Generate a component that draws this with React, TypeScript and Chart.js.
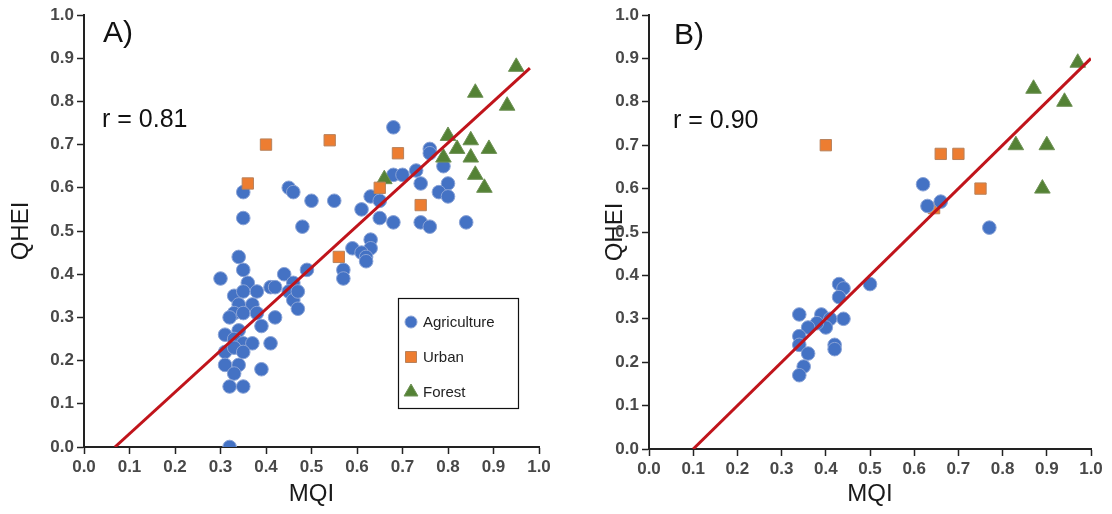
import React, { useEffect, useRef } from 'react';
import { Chart, registerables } from 'chart.js';
Chart.register(...registerables);

// ---------- data ----------
const tickValues = [0, 0.1, 0.2, 0.3, 0.4, 0.5, 0.6, 0.7, 0.8, 0.9, 1.0];
const seriesNames = ['Agriculture', 'Urban', 'Forest'];

const agricultureA: number[][] = [
  [0.35, 0.59], [0.35, 0.53], [0.45, 0.60], [0.46, 0.59], [0.50, 0.57], [0.48, 0.51],
  [0.68, 0.74], [0.76, 0.69], [0.76, 0.68], [0.79, 0.65], [0.68, 0.63], [0.70, 0.63],
  [0.73, 0.64], [0.74, 0.61], [0.80, 0.61], [0.78, 0.59], [0.80, 0.58], [0.55, 0.57],
  [0.63, 0.58], [0.65, 0.57], [0.61, 0.55], [0.65, 0.53], [0.68, 0.52], [0.74, 0.52],
  [0.76, 0.51], [0.84, 0.52], [0.63, 0.48], [0.63, 0.46], [0.59, 0.46], [0.61, 0.45],
  [0.62, 0.44], [0.62, 0.43], [0.57, 0.41], [0.57, 0.39],
  [0.34, 0.44], [0.35, 0.41], [0.30, 0.39], [0.36, 0.38], [0.38, 0.36], [0.33, 0.35],
  [0.35, 0.36], [0.34, 0.33], [0.37, 0.33], [0.33, 0.31], [0.35, 0.31], [0.32, 0.30],
  [0.38, 0.31], [0.39, 0.28], [0.42, 0.30], [0.41, 0.37], [0.42, 0.37], [0.44, 0.40],
  [0.46, 0.38], [0.45, 0.36], [0.46, 0.34], [0.47, 0.36], [0.47, 0.32], [0.49, 0.41],
  [0.31, 0.26], [0.34, 0.27], [0.33, 0.25], [0.35, 0.24], [0.37, 0.24], [0.31, 0.22],
  [0.33, 0.23], [0.35, 0.22], [0.41, 0.24], [0.31, 0.19], [0.34, 0.19], [0.33, 0.17],
  [0.39, 0.18], [0.32, 0.14], [0.35, 0.14], [0.32, 0.0],
];
const urbanA: number[][] = [
  [0.40, 0.70], [0.36, 0.61], [0.54, 0.71], [0.69, 0.68], [0.65, 0.60], [0.74, 0.56], [0.56, 0.44],
];
const forestA: number[][] = [
  [0.95, 0.88], [0.86, 0.82], [0.93, 0.79], [0.80, 0.72], [0.82, 0.69], [0.85, 0.71],
  [0.89, 0.69], [0.85, 0.67], [0.79, 0.67], [0.86, 0.63], [0.88, 0.60], [0.66, 0.62],
];
const fitA: number[][] = [[0.068, 0.0], [0.98, 0.877]];

const agricultureB: number[][] = [
  [0.62, 0.61], [0.63, 0.56], [0.66, 0.57], [0.77, 0.51], [0.50, 0.38], [0.43, 0.38],
  [0.44, 0.37], [0.43, 0.35], [0.44, 0.30], [0.39, 0.31], [0.41, 0.30], [0.40, 0.28],
  [0.38, 0.29], [0.34, 0.31], [0.36, 0.28], [0.34, 0.26], [0.34, 0.24], [0.42, 0.24],
  [0.42, 0.23], [0.36, 0.22], [0.35, 0.19], [0.34, 0.17],
];
const urbanB: number[][] = [[0.40, 0.70], [0.66, 0.68], [0.70, 0.68], [0.75, 0.60], [0.645, 0.555]];
const forestB: number[][] = [
  [0.97, 0.89], [0.87, 0.83], [0.94, 0.80], [0.83, 0.70], [0.90, 0.70], [0.89, 0.60],
];
const fitB: number[][] = [[0.10, 0.0], [1.0, 0.90]];

// ---------- styles ----------
const FONT = "'Liberation Sans', Arial, sans-serif";
const styles = [
  { color: '#4472C4', border: '#8aa3d6', shape: 'circle', radius: 6.8 },
  { color: '#ED7D31', border: '#b8825c', shape: 'rect', radius: 8 },
  { color: '#548235', border: '#6f9256', shape: 'triangle', radius: 9 },
];

const toPts = (arr: number[][]) => arr.map(([x, y]) => ({ x, y }));

const panelPlugin = {
  id: 'panelText',
  afterDraw(chart: any, _args: any, opts: any) {
    const { ctx, chartArea } = chart;
    ctx.save();
    ctx.fillStyle = '#111';
    ctx.textBaseline = 'middle';
    ctx.textAlign = 'left';
    ctx.font = `30px ${FONT}`;
    ctx.fillText(opts.label, chartArea.left + opts.labelDx, chartArea.top + opts.labelDy);
    ctx.font = `25px ${FONT}`;
    ctx.fillText(opts.rText, chartArea.left + opts.rDx, chartArea.top + opts.rDy);
    if (opts.legend) {
      const lx = chartArea.left + 314;
      const ly = chartArea.top + 283;
      ctx.fillStyle = '#fff';
      ctx.fillRect(lx, ly, 120, 110);
      ctx.strokeStyle = '#111';
      ctx.lineWidth = 1.2;
      ctx.strokeRect(lx + 0.5, ly + 0.5, 120, 110);
      ctx.font = `15px ${FONT}`;
      seriesNames.forEach((name, i) => {
        const st = styles[i];
        const cy = ly + 24 + i * 35;
        const cx = lx + 13;
        ctx.fillStyle = st.color;
        ctx.strokeStyle = st.border;
        ctx.lineWidth = 1;
        ctx.beginPath();
        if (st.shape === 'circle') {
          ctx.arc(cx, cy, 6, 0, Math.PI * 2);
        } else if (st.shape === 'rect') {
          ctx.rect(cx - 5.5, cy - 5.5, 11, 11);
        } else {
          const r = 8;
          ctx.moveTo(cx, cy - r);
          ctx.lineTo(cx + Math.sin((2 * Math.PI) / 3) * r, cy - Math.cos((2 * Math.PI) / 3) * r);
          ctx.lineTo(cx + Math.sin((4 * Math.PI) / 3) * r, cy - Math.cos((4 * Math.PI) / 3) * r);
          ctx.closePath();
        }
        ctx.fill();
        ctx.stroke();
        ctx.fillStyle = '#222';
        ctx.fillText(name, lx + 25, cy + 1);
      });
    }
    ctx.restore();
  },
};

function makeConfig(
  agri: number[][], urban: number[][], forest: number[][], fit: number[][],
  yWidth: number, padLeft: number, padRight: number, xHeight: number, text: any,
  orderMap: number[],
): any {
  const series = [agri, urban, forest];
  const datasets: any[] = [
    {
      label: 'fit',
      data: toPts(fit),
      showLine: true,
      borderColor: '#C0141B',
      borderWidth: 3,
      pointRadius: 0,
      fill: false,
      order: 0,
    },
  ];
  series.forEach((s, i) => {
    datasets.push({
      label: seriesNames[i],
      data: toPts(s),
      pointStyle: styles[i].shape,
      pointRadius: styles[i].radius,
      backgroundColor: styles[i].color,
      borderColor: styles[i].border,
      borderWidth: 1,
      order: orderMap[i],
    });
  });
  const axisCommon = {
    type: 'linear',
    min: 0,
    max: 1,
    afterBuildTicks: (scale: any) => {
      scale.ticks = tickValues.map((v) => ({ value: v }));
    },
    grid: {
      display: true,
      drawOnChartArea: false,
      drawTicks: true,
      tickLength: 7,
      tickColor: '#222',
      tickWidth: 1.5,
    },
    border: { display: true, color: '#222', width: 2 },
    ticks: {
      color: '#484848',
      font: { family: FONT, size: 17, weight: 'bold' },
      padding: 3,
      callback: (v: any) => Number(v).toFixed(1),
    },
  };
  return {
    type: 'scatter',
    data: { datasets },
    options: {
      animation: false,
      responsive: false,
      devicePixelRatio: 1,
      layout: { padding: { left: padLeft, right: padRight, top: 15, bottom: 0 } },
      plugins: {
        legend: { display: false },
        tooltip: { enabled: false },
        panelText: text,
      },
      scales: {
        x: {
          ...axisCommon,
          position: 'bottom',
          afterFit: (scale: any) => { scale.height = xHeight; },
          title: {
            display: true,
            text: 'MQI',
            color: '#1a1a1a',
            font: { family: FONT, size: 24 },
            padding: { top: 4, bottom: 5 },
          },
        },
        y: {
          ...axisCommon,
          position: 'left',
          afterFit: (scale: any) => { scale.width = yWidth; },
          title: {
            display: true,
            text: 'QHEI',
            color: '#1a1a1a',
            font: { family: FONT, size: 24 },
            padding: { top: 7, bottom: 4 },
          },
        },
      },
    },
    plugins: [panelPlugin],
  };
}

function Panel({ cfg }: { cfg: () => any }) {
  const ref = useRef<HTMLCanvasElement | null>(null);
  useEffect(() => {
    if (!ref.current) return;
    const chart = new Chart(ref.current, cfg());
    return () => chart.destroy();
  }, []);
  return <canvas ref={ref} width={556} height={514} style={{ display: 'block', width: 556, height: 514 }} />;
}

export default function App() {
  return (
    <div style={{ position: 'absolute', left: 0, top: 0, width: 1112, height: 514, display: 'flex', background: '#fff' }}>
      <Panel
        cfg={() =>
          makeConfig(agricultureA, urbanA, forestA, fitA, 84, 0, 17, 67, {
            label: 'A)', labelDx: 19, labelDy: 19, rText: 'r = 0.81', rDx: 18, rDy: 105, legend: true,
          }, [3, 1, 2])
        }
      />
      <Panel
        cfg={() =>
          makeConfig(agricultureB, urbanB, forestB, fitB, 55, 38, 21, 65, {
            label: 'B)', labelDx: 25, labelDy: 21, rText: 'r = 0.90', rDx: 24, rDy: 106, legend: false,
          }, [1, 3, 2])
        }
      />
    </div>
  );
}
